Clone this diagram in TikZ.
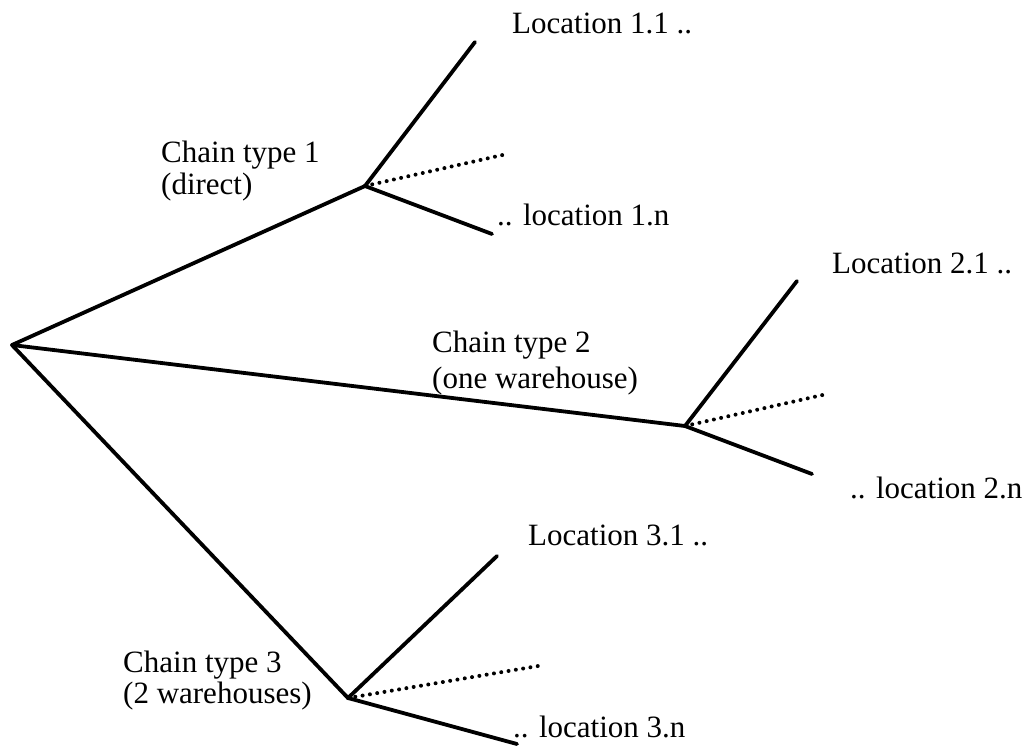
\documentclass[tikz,border=0pt]{standalone}
\usepackage{fontspec}
\setmainfont{Liberation Serif}
\begin{document}
\begin{tikzpicture}[x=1pt,y=-1pt,
  branch/.style={line width=3.8pt,line cap=round,line join=round},
  dotline/.style={line width=4pt,line cap=round,dash pattern=on 0pt off 7.4pt},
  lbl/.style={anchor=base west,inner sep=0pt,font=\fontsize{31}{33}\selectfont}]
\useasboundingbox (0,0) rectangle (1025,745);

% junction points of the tree
\coordinate (root) at (12,345);
\coordinate (c1) at (365,186);
\coordinate (c2) at (685,426);
\coordinate (c3) at (348,698);

% free ends of the leaves
\coordinate (a1) at (475,42);
\coordinate (d1) at (507,154);
\coordinate (b1) at (492,234);
\coordinate (a2) at (797,281);
\coordinate (d2) at (827,394);
\coordinate (b2) at (812,474);
\coordinate (a3) at (497,556);
\coordinate (d3) at (538,666);
\coordinate (b3) at (517,744);

% main chains
\draw[branch] (root) -- (c1);
\draw[branch] (root) -- (c2);
\draw[branch] (root) -- (c3);

% locations of each chain
\foreach \i in {1,2,3}{
  \draw[branch] (c\i) -- (a\i);
  \draw[branch] (c\i) -- (b\i);
  \draw[dotline] (c\i) -- (d\i);
}

% labels
\node[lbl] (l11) at (512,33) {Location 1.1 ..};
\node[lbl] (t1a) at (161,162) {Chain type 1};
\node[lbl] (t1b) at (161,194) {(direct)};
\node[lbl] (l1n) at (497,225) {.. location 1.n};

\node[lbl] (l21) at (832,273) {Location 2.1 ..};
\node[lbl] (t2a) at (432,352) {Chain type 2};
\node[lbl] (t2b) at (432,388) {(one warehouse)};
\node[lbl] (l2n) at (850,498) {.. location 2.n};

\node[lbl] (l31) at (528,545) {Location 3.1 ..};
\node[lbl] (t3a) at (123,672) {Chain type 3};
\node[lbl] (t3b) at (123,703) {(2 warehouses)};
\node[lbl] (l3n) at (513,737) {.. location 3.n};
\end{tikzpicture}
\end{document}
